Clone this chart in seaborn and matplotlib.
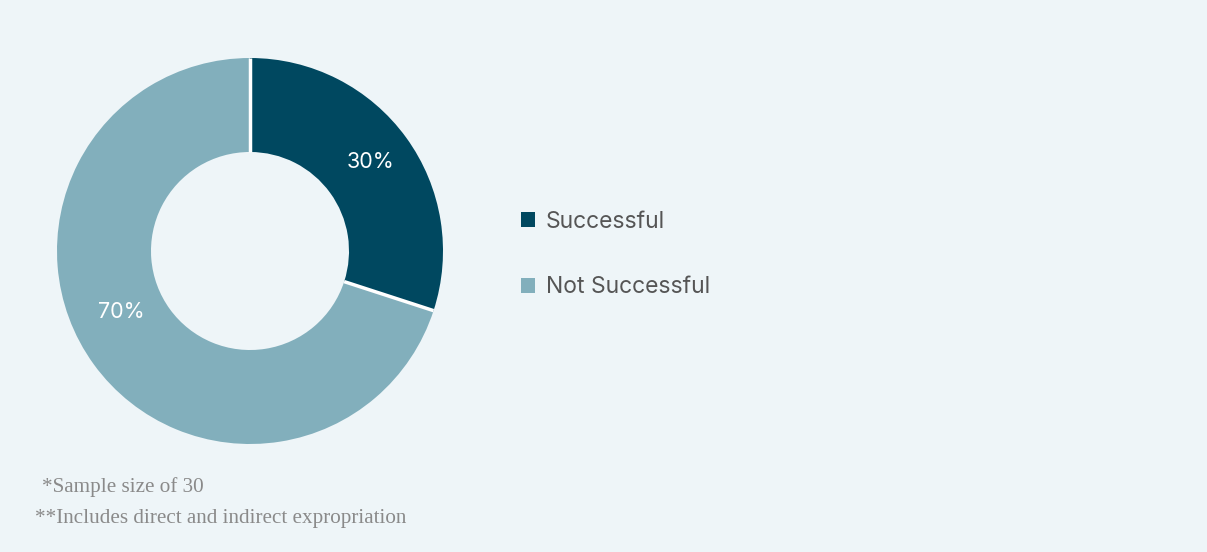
import matplotlib
matplotlib.use("Agg")
import numpy as np
import matplotlib.pyplot as plt
import seaborn as sns

# Outcome shares
categories = ["Successful", "Not Successful"]
shares = [30, 70]
colors = ["#004860", "#82AFBC"]
footnotes = ["*Sample size of 30", "**Includes direct and indirect expropriation"]

BG = "#EEF5F8"

sns.set_theme(style="white")
plt.rcParams["font.family"] = ["Inter", "DejaVu Sans"]

W, H = 1207, 552
fig = plt.figure(figsize=(W / 100, H / 100), dpi=100, facecolor=BG)

# Donut axes: centre (250, 251) px, outer radius 193 px
cx, cy, r = 250, 251, 193
ax = fig.add_axes([(cx - r) / W, (H - cy - r) / H, 2 * r / W, 2 * r / H])
ax.set_facecolor(BG)

ring = 0.487
wedges, texts, autotexts = ax.pie(
    shares,
    colors=colors,
    startangle=90,
    counterclock=False,
    radius=1.0,
    autopct="%d%%",
    pctdistance=0.76,
    wedgeprops=dict(width=ring, linewidth=0),
    textprops=dict(color="white", fontsize=15.5),
)
# white separators only between slices (no outer outline)
for w in wedges:
    a = np.deg2rad(w.theta1)
    ax.plot([(1 - ring) * np.cos(a), np.cos(a)], [(1 - ring) * np.sin(a), np.sin(a)],
            color="white", lw=2.5, solid_capstyle="butt", zorder=3)

# label placement inside each slice
autotexts[0].set_position((0.625, 0.46))
autotexts[1].set_position((-0.665, -0.315))
ax.set_xlim(-1, 1)
ax.set_ylim(-1, 1)
ax.set_aspect("equal")
ax.axis("off")

leg = fig.legend(
    wedges,
    categories,
    loc="upper left",
    bbox_to_anchor=(500 / W, 1 - 190 / H),
    frameon=False,
    fontsize=16.5,
    handlelength=0.64,
    handleheight=0.64,
    handletextpad=0.45,
    labelspacing=1.9,
)
for t in leg.get_texts():
    t.set_color("#555555")
for h in leg.legend_handles:
    h.set_edgecolor("none")
    h.set_linewidth(0)

fig.text(42 / W, 1 - 492 / H, footnotes[0], family="Liberation Serif",
         fontsize=15.2, color="#8a8a8a", va="baseline")
fig.text(35 / W, 1 - 523 / H, footnotes[1], family="Liberation Serif",
         fontsize=15.2, color="#8a8a8a", va="baseline")

fig.savefig("out.png", dpi=100, facecolor=BG)
